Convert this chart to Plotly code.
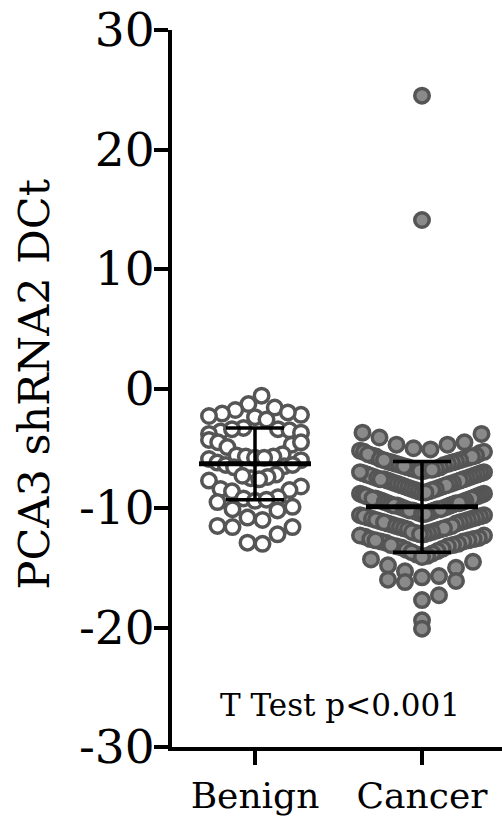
import numpy as np
import plotly.graph_objects as go

# ---------------- data ----------------
categories = ["Benign", "Cancer"]

benign_dct = [
    -0.6,
    -1.3, -1.6, -1.8,
    -2.1, -2.2, -2.3, -2.4, -2.6, -2.0,
    -3.3, -3.4, -3.6, -3.8, -3.5, -3.7, -3.4,
    -4.3, -4.5, -4.7, -4.5, -4.9,
    -5.5, -5.6, -5.7, -5.8, -5.9, -5.7, -5.8, -6.0,
    -6.2, -6.4, -6.5, -6.4, -6.6,
    -7.2, -7.4, -7.5, -7.6, -7.3, -7.7,
    -8.2, -8.4, -8.5, -8.6,
    -9.1, -9.2, -9.4, -9.5, -9.3,
    -9.9, -10.1, -10.2,
    -10.8, -11.0,
    -11.5, -11.6, -11.6,
    -12.2,
    -12.9, -13.0,
]

cancer_dct = [
    24.5, 14.1,
    -3.7, -3.8, -4.1, -4.5, -4.7, -4.7,
    -5.0, -5.1, -5.2, -5.3, -5.4, -5.3,
    -5.6, -5.6, -5.7, -5.8, -5.9, -5.7, -5.5, -5.9,
    -6.0, -6.1, -6.2, -6.3, -6.3, -6.4, -6.2, -6.1, -6.4, -6.0,
    -6.6, -6.7, -6.8, -6.8, -6.9, -6.6, -6.7, -6.9, -6.5, -6.8,
    -7.0, -7.1, -7.2, -7.3, -7.4, -7.2, -7.1, -7.4, -7.3, -7.0,
    -7.5, -7.6, -7.7, -7.8, -7.9, -7.6, -7.8, -7.5, -7.7, -7.9, -7.6,
    -8.0, -8.1, -8.2, -8.3, -8.4, -8.2, -8.0, -8.3, -8.1, -8.4,
    -8.5, -8.6, -8.7, -8.8, -8.9, -8.6, -8.8, -8.5, -8.7, -8.9,
    -9.0, -9.1, -9.2, -9.3, -9.4, -9.1, -9.3, -9.0, -9.2, -9.4, -9.2,
    -9.5, -9.6, -9.7, -9.8, -9.9, -9.6, -9.8, -9.5, -9.7, -9.9, -9.6, -9.8,
    -10.0, -10.1, -10.2, -10.3, -10.4, -10.1, -10.3, -10.0, -10.2, -10.4, -10.2, -10.1,
    -10.5, -10.6, -10.7, -10.8, -10.9, -10.6, -10.8, -10.5, -10.7, -10.9,
    -11.0, -11.1, -11.2, -11.3, -11.4, -11.1, -11.3, -11.0, -11.2,
    -11.5, -11.6, -11.7, -11.8, -11.9, -11.6, -11.8, -11.5, -11.7,
    -12.0, -12.1, -12.2, -12.3, -12.4, -12.1, -12.3, -12.0, -12.2,
    -12.5, -12.6, -12.7, -12.8, -12.9, -12.6, -12.8, -12.7,
    -13.0, -13.1, -13.2, -13.3, -13.4, -13.2, -13.1,
    -13.5, -13.6, -13.8, -13.9, -13.7, -14.0,
    -14.1, -14.3, -14.5,
    -14.8, -15.0,
    -15.3, -15.7,
    -15.8, -16.1, -16.2, -16.0,
    -17.3, -17.7,
    -19.4, -20.1,
]

group_means = [-6.3, -9.9]
group_sds = [3.0, 3.8]

y_tick_values = [-30, -20, -10, 0, 10, 20, 30]
y_tick_labels = ["-30", "-20", "-10", "0", "10", "20", "30"]

y_title = "PCA3 shRNA2 DCt"
test_note = "T Test p<0.001"

# ---------------- geometry ----------------
W, H = 502, 821
L_M, R_M, T_M, B_M = 172, 0, 30, 74
PX_PER_CAT = 167.0
X0 = -(255 - L_M) / PX_PER_CAT
X1 = X0 + (W - L_M - R_M) / PX_PER_CAT
Y_RANGE = [-30, 30]
PLOT_H = H - T_M - B_M
PLOT_W = W - L_M - R_M


def swarm_offsets(vals, bin_h, base, max_step_px, max_half_px, peak_above=None):
    """GraphPad-like swarm: values binned; inside each bin the points are laid
    out centre-out and the spacing of a bin is squeezed when its row would be
    wider than the column. Bins above `peak_above` put the highest value in the
    centre, the others the lowest."""
    vals = np.asarray(vals, dtype=float)
    bins = np.floor((vals - base) / bin_h).astype(int)
    groups = {}
    for i, b in enumerate(bins):
        groups.setdefault(b, []).append(i)
    off = np.zeros(len(vals))
    for b, idx in groups.items():
        bin_mid = base + (b + 0.5) * bin_h
        desc = peak_above is not None and bin_mid > peak_above
        idx = sorted(idx, key=lambda k: -vals[k] if desc else vals[k])
        n = len(idx)
        step = max_step_px if n < 2 else min(max_step_px, 2 * max_half_px / (n - 1))
        if n % 2 == 1:
            slots = [0.0]
            k = 1
        else:
            slots = []
            k = 0.5
        while len(slots) < n:
            slots += [k, -k]
            k += 1
        for j, s in zip(idx, slots[:n]):
            off[j] = s * step
    return off / PX_PER_CAT


benign_x = 0 + swarm_offsets(benign_dct, 1.8, -13.1, 15, 46, peak_above=-4.0)
cancer_x = 1 + swarm_offsets(cancer_dct, 1.8, -15.9, 17, 62)

fig = go.Figure()

fig.add_trace(go.Scatter(
    x=benign_x, y=benign_dct, mode="markers",
    marker=dict(symbol="circle", size=14.5, color="white",
                line=dict(color="#555555", width=3.5)),
    showlegend=False, hoverinfo="y"))

fig.add_trace(go.Scatter(
    x=cancer_x, y=cancer_dct, mode="markers",
    marker=dict(symbol="circle", size=14.5, color="#8a8a8a",
                line=dict(color="#555555", width=3.5)),
    showlegend=False, hoverinfo="y"))

# mean lines
half_mean = 56 / PX_PER_CAT
for i, m in enumerate(group_means):
    fig.add_trace(go.Scatter(
        x=[i - half_mean, i + half_mean], y=[m, m], mode="lines",
        line=dict(color="black", width=5), showlegend=False, hoverinfo="skip"))

# SD error bars
fig.add_trace(go.Scatter(
    x=list(range(len(categories))), y=group_means, mode="markers",
    marker=dict(size=0.1, color="black", opacity=0),
    error_y=dict(type="data", array=group_sds, visible=True,
                 color="black", thickness=3.5, width=29),
    showlegend=False, hoverinfo="skip"))

fig.update_layout(
    width=W, height=H,
    margin=dict(l=L_M, r=R_M, t=T_M, b=B_M, pad=0),
    plot_bgcolor="white", paper_bgcolor="white",
    font=dict(family="DejaVu Serif", color="black"),
    showlegend=False,
    xaxis=dict(
        range=[X0, X1], showgrid=False, zeroline=False,
        showline=True, linewidth=4, linecolor="black",
        tickmode="array", tickvals=list(range(len(categories))), ticktext=categories,
        ticks="outside", ticklen=14, tickwidth=4, tickcolor="black",
        tickfont=dict(family="DejaVu Serif", size=36, color="black"),
    ),
    yaxis=dict(
        range=Y_RANGE, showgrid=False, zeroline=False,
        showline=True, linewidth=4, linecolor="black",
        tickmode="array", tickvals=y_tick_values, ticktext=y_tick_labels,
        ticks="outside", ticklen=14, tickwidth=4, tickcolor="black",
        ticklabelstandoff=-10,
        tickfont=dict(family="DejaVu Serif", size=47, color="black"),
    ),
)

fig.add_annotation(
    text=y_title, textangle=-90, showarrow=False,
    xref="paper", yref="paper",
    x=(33 - L_M) / PLOT_W, y=0.5 + (389 - 385) / PLOT_H,
    xanchor="center", yanchor="middle",
    font=dict(family="DejaVu Serif", size=43, color="black"))

fig.add_annotation(
    text=test_note, showarrow=False,
    xref="paper", yref="y",
    x=(340 - L_M) / PLOT_W, y=-26.5,
    xanchor="center", yanchor="middle",
    font=dict(family="DejaVu Serif", size=31, color="black"))

fig.write_html("out.html", config={"displayModeBar": False},
               post_script="document.body.style.margin='0';")
